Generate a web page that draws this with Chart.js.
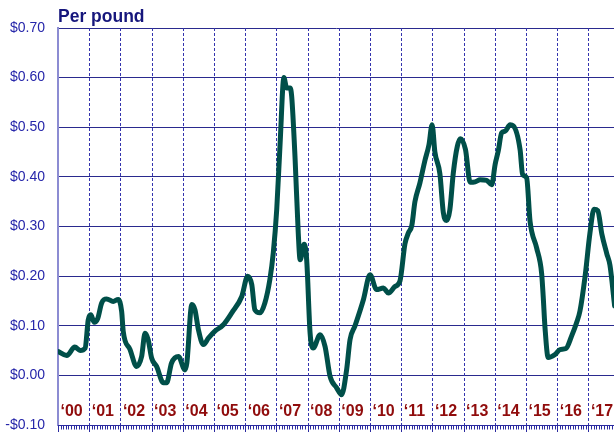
<!DOCTYPE html>
<html>
<head>
<meta charset="utf-8">
<title>Per pound</title>
<script src="https://cdn.jsdelivr.net/npm/chart.js@4/dist/chart.umd.min.js"></script>
<style>
    html, body { margin: 0; padding: 0; background: #ffffff; overflow: hidden; }
    #wrap { position: relative; width: 614px; height: 432px; }
</style>
</head>
<body>
<div id="wrap"><canvas id="chart"></canvas></div>
<script>
// Data (x = decimal year, y = dollars per pound)
const dates = [
    2000.01, 2000.28, 2000.54, 2000.71, 2000.87, 2000.97, 2001.05, 2001.16, 2001.27, 2001.40,
    2001.56, 2001.77, 2001.93, 2002.04, 2002.09, 2002.31, 2002.52, 2002.68, 2002.79, 2002.89,
    2003.00, 2003.16, 2003.38, 2003.48, 2003.64, 2003.86, 2004.07, 2004.13, 2004.29, 2004.39,
    2004.50, 2004.66, 2004.82, 2005.03, 2005.30, 2005.57, 2005.89, 2006.08, 2006.21, 2006.31,
    2006.47, 2006.63, 2006.79, 2006.90, 2007.01, 2007.12, 2007.24, 2007.33, 2007.44, 2007.49,
    2007.60, 2007.70, 2007.76, 2007.89, 2007.97, 2008.08, 2008.18, 2008.40, 2008.56, 2008.72,
    2008.93, 2009.09, 2009.25, 2009.36, 2009.52, 2009.79, 2010.00, 2010.21, 2010.43, 2010.59,
    2010.80, 2010.96, 2011.12, 2011.23, 2011.34, 2011.44, 2011.60, 2011.76, 2011.89, 2011.99,
    2012.08, 2012.24, 2012.35, 2012.46, 2012.56, 2012.67, 2012.80, 2012.90, 2013.06, 2013.21,
    2013.37, 2013.53, 2013.74, 2013.90, 2014.01, 2014.11, 2014.22, 2014.33, 2014.49, 2014.59,
    2014.81, 2014.89, 2015.02, 2015.13, 2015.34, 2015.50, 2015.55, 2015.61, 2015.71, 2015.93,
    2016.09, 2016.28, 2016.46, 2016.62, 2016.73, 2016.89, 2017.05, 2017.18, 2017.30, 2017.43,
    2017.59, 2017.69, 2017.84
];
const prices = [
    0.048, 0.040, 0.057, 0.050, 0.055, 0.112, 0.122, 0.107, 0.114, 0.146,
    0.154, 0.149, 0.153, 0.129, 0.089, 0.052, 0.018, 0.038, 0.085, 0.072,
    0.035, 0.018, -0.015, -0.015, 0.025, 0.038, 0.011, 0.025, 0.143, 0.132,
    0.092, 0.062, 0.075, 0.089, 0.102, 0.126, 0.159, 0.200, 0.183, 0.132,
    0.126, 0.146, 0.193, 0.247, 0.334, 0.469, 0.600, 0.579, 0.579, 0.562,
    0.435, 0.287, 0.233, 0.264, 0.233, 0.085, 0.055, 0.082, 0.058, -0.002,
    -0.025, -0.039, 0.011, 0.072, 0.100, 0.153, 0.203, 0.173, 0.176, 0.166,
    0.179, 0.190, 0.265, 0.287, 0.302, 0.350, 0.388, 0.433, 0.465, 0.505,
    0.450, 0.406, 0.328, 0.312, 0.334, 0.408, 0.462, 0.477, 0.455, 0.389,
    0.390, 0.394, 0.393, 0.384, 0.425, 0.452, 0.489, 0.492, 0.505, 0.503,
    0.455, 0.405, 0.398, 0.310, 0.257, 0.206, 0.160, 0.095, 0.036, 0.042,
    0.052, 0.054, 0.079, 0.106, 0.130, 0.198, 0.287, 0.335, 0.332, 0.285,
    0.245, 0.222, 0.140
];

// Year labels along the bottom of the plot
const yearStarts = [2000, 2001, 2002, 2003, 2004, 2005, 2006, 2007, 2008,
    2009, 2010, 2011, 2012, 2013, 2014, 2015, 2016, 2017];
const yearLabels = ['‘00', '‘01', '‘02', '‘03', '‘04', '‘05', '‘06', '‘07', '‘08',
    '‘09', '‘10', '‘11', '‘12', '‘13', '‘14', '‘15', '‘16', '‘17'];

const titleText = 'Per pound';
const FONT = '"Liberation Sans", Arial, sans-serif';

// $0.70 / -$0.10 style
function formatDollar(v) {
    const sign = v < -0.0001 ? '-' : '';
    return sign + '$' + Math.abs(v).toFixed(2);
}

// Year grid lines, bottom axis with month ticks, year labels and title
const decorPlugin = {
    id: 'decor',
    beforeDatasetsDraw(chart) {
        const { ctx, chartArea: area, scales: { x } } = chart;
        ctx.save();
        ctx.strokeStyle = '#3434ae';
        ctx.lineWidth = 1;
        ctx.setLineDash([3, 2]);
        yearStarts.forEach(yr => {
            if (yr === x.min) return;
            const px = Math.round(x.getPixelForValue(yr)) + 0.5;
            ctx.beginPath();
            ctx.moveTo(px, area.top);
            ctx.lineTo(px, area.bottom);
            ctx.stroke();
        });
        ctx.restore();
    },
    afterDraw(chart) {
        const { ctx, chartArea: area, scales: { x } } = chart;
        ctx.save();

        // bottom axis line
        const by = Math.round(area.bottom) + 0.5;
        ctx.strokeStyle = '#2b2ba0';
        ctx.lineWidth = 1;
        ctx.beginPath();
        ctx.moveTo(area.left, by);
        ctx.lineTo(area.right, by);
        ctx.stroke();

        // monthly ticks under the axis
        const months = Math.floor((x.max - x.min) * 12);
        for (let m = 0; m <= months; m++) {
            const px = Math.round(x.getPixelForValue(x.min + m / 12)) + 0.5;
            const len = m % 12 === 0 ? 7 : 4;
            ctx.beginPath();
            ctx.moveTo(px, by);
            ctx.lineTo(px, by + len);
            ctx.stroke();
        }

        // year labels
        ctx.fillStyle = '#900c0c';
        ctx.font = 'bold 16px ' + FONT;
        ctx.textAlign = 'left';
        ctx.textBaseline = 'middle';
        yearStarts.forEach((yr, i) => {
            ctx.fillText(yearLabels[i], x.getPixelForValue(yr) + 2.5, area.bottom - 13);
        });

        // title
        ctx.fillStyle = '#16167c';
        ctx.font = 'bold 17.5px ' + FONT;
        ctx.textBaseline = 'alphabetic';
        ctx.fillText(titleText, area.left, 22);

        ctx.restore();
    }
};

new Chart(document.getElementById('chart'), {
    type: 'line',
    data: {
        datasets: [{
            data: dates.map((d, i) => ({ x: d, y: prices[i] })),
            borderColor: '#004f49',
            borderWidth: 5,
            pointRadius: 0,
            cubicInterpolationMode: 'monotone',
            borderCapStyle: 'round',
            borderJoinStyle: 'round',
            fill: false
        }]
    },
    options: {
        responsive: true,
        maintainAspectRatio: false,
        animation: false,
        layout: { autoPadding: false, padding: { top: 28, right: 0, bottom: 7, left: 0 } },
        plugins: {
            legend: { display: false },
            tooltip: { enabled: false }
        },
        scales: {
            x: {
                type: 'linear',
                display: false,
                min: 2000,
                max: 2017.82
            },
            y: {
                min: -0.1,
                max: 0.7,
                ticks: {
                    stepSize: 0.1,
                    color: '#2626aa',
                    font: { family: FONT, size: 14 },
                    padding: 13,
                    callback: v => formatDollar(v)
                },
                grid: { color: '#2a2a8e', lineWidth: 1, drawTicks: false },
                border: { display: true, color: '#8c8cd2', width: 2 },
                afterFit: s => {
                    // fixed axis width, no extra label overflow at the ends
                    s.width = 58;
                    s.paddingTop = 0;
                    s.paddingBottom = 0;
                }
            }
        }
    },
    plugins: [decorPlugin]
});
</script>
</body>
</html>
